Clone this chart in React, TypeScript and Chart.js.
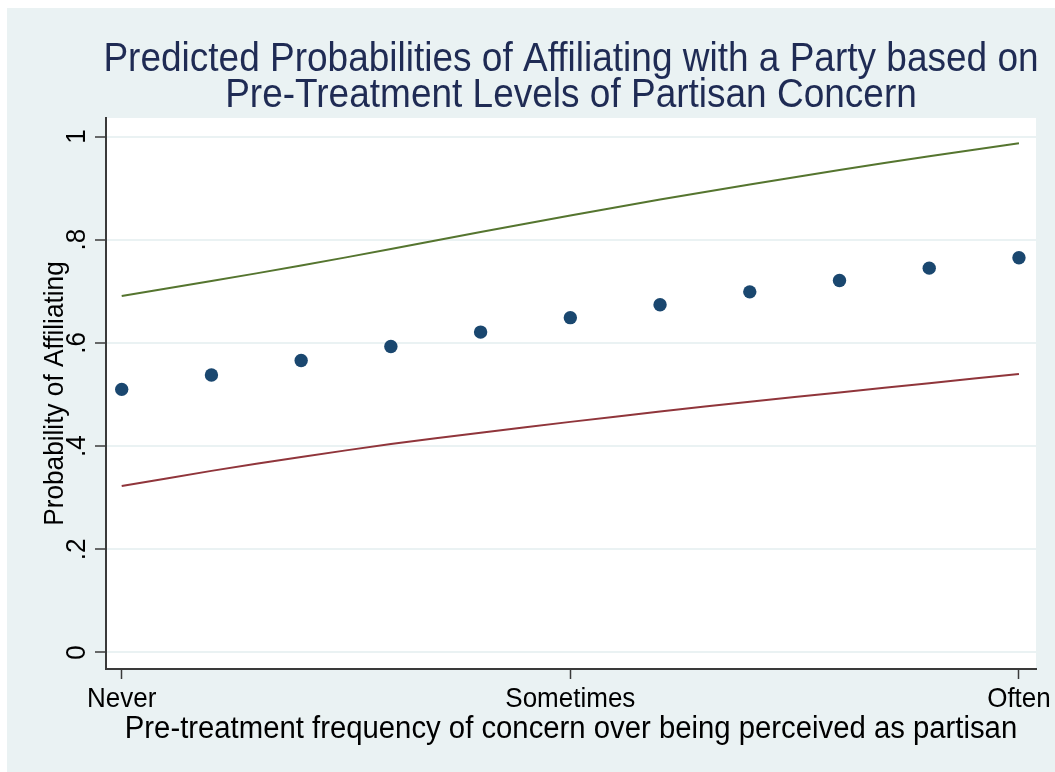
import React, { useEffect, useRef } from "react";
import { Chart, registerables } from "chart.js";

Chart.register(...registerables);

// Concern level (0 = Never ... 10 = Often) and predicted probabilities
const concernLevels = [0, 1, 2, 3, 4, 5, 6, 7, 8, 9, 10];
const predicted = [0.510, 0.538, 0.566, 0.593, 0.621, 0.649, 0.674, 0.699, 0.721, 0.745, 0.765];
const upperBound = [0.691, 0.720, 0.750, 0.782, 0.815, 0.847, 0.878, 0.907, 0.935, 0.962, 0.987];
const lowerBound = [0.3225, 0.352, 0.379, 0.404, 0.426, 0.447, 0.467, 0.486, 0.504, 0.522, 0.540];

const xTickValues = [0, 5, 10];
const xTickLabels = ["Never", "Sometimes", "Often"];
const yTickValues = [0, 0.2, 0.4, 0.6, 0.8, 1];
const yTickLabels = ["0", ".2", ".4", ".6", ".8", "1"];

const titleLines = [
  "Predicted Probabilities of Affiliating with a Party based on",
  "Pre-Treatment Levels of Partisan Concern",
];
const xTitle = "Pre-treatment frequency of concern over being perceived as partisan";
const yTitle = "Probability of Affiliating";

const FONT = '"Liberation Sans", Arial, Helvetica, sans-serif';
const BG = "#eaf2f3";
const AXIS = "#3a3a3a";
const STRETCH = 1.08; // glyphs drawn a little taller than wide

const W = 1048;
const H = 764;

const pairs = (ys: number[]) => concernLevels.map((x, i) => ({ x, y: ys[i] }));

// draws text anchored at (x, y) baseline-centre, optionally rotated
function drawText(ctx: CanvasRenderingContext2D, text: string, x: number, y: number, angle = 0) {
  ctx.save();
  ctx.translate(x, y);
  if (angle) ctx.rotate(angle);
  ctx.scale(1, STRETCH);
  ctx.fillText(text, 0, 0);
  ctx.restore();
}

const framePlugin = {
  id: "frame",
  beforeDraw(chart: any) {
    const { ctx, chartArea } = chart;
    ctx.save();
    ctx.fillStyle = BG;
    ctx.fillRect(0, 0, chart.width, chart.height);
    ctx.fillStyle = "#ffffff";
    ctx.fillRect(chartArea.left, chartArea.top, chartArea.right - chartArea.left, chartArea.bottom - chartArea.top);
    ctx.restore();
  },
  afterDraw(chart: any) {
    const { ctx, chartArea, scales } = chart;
    const cx = (chartArea.left + chartArea.right) / 2;
    const cy = (chartArea.top + chartArea.bottom) / 2;
    ctx.save();
    ctx.textAlign = "center";
    ctx.textBaseline = "alphabetic";

    // title
    ctx.fillStyle = "#1f2b54";
    ctx.font = `37px ${FONT}`;
    drawText(ctx, titleLines[0], cx, 63);
    drawText(ctx, titleLines[1], cx, 99);

    // x tick labels and title
    ctx.fillStyle = "#000000";
    ctx.font = `26px ${FONT}`;
    xTickValues.forEach((v, i) => {
      drawText(ctx, xTickLabels[i], scales.x.getPixelForValue(v), 699);
    });
    ctx.font = `29.3px ${FONT}`;
    drawText(ctx, xTitle, cx, 730);

    // y tick labels, rotated
    ctx.font = `26px ${FONT}`;
    yTickValues.forEach((v, i) => {
      drawText(ctx, yTickLabels[i], 78, scales.y.getPixelForValue(v), -Math.PI / 2);
    });

    // y title, rotated
    ctx.font = `26.2px ${FONT}`;
    drawText(ctx, yTitle, 56, cy, -Math.PI / 2);
    ctx.restore();
  },
};

export default function App() {
  const canvasRef = useRef<HTMLCanvasElement | null>(null);

  useEffect(() => {
    const canvas = canvasRef.current;
    if (!canvas) return;
    const chart = new Chart(canvas, {
      type: "scatter",
      data: {
        datasets: [
          {
            label: "Predicted",
            data: pairs(predicted),
            showLine: false,
            pointRadius: 6.7,
            pointBackgroundColor: "#1a476f",
            pointBorderWidth: 0,
          },
          {
            label: "Upper",
            data: pairs(upperBound),
            showLine: true,
            pointRadius: 0,
            borderColor: "#55752f",
            borderWidth: 2,
            tension: 0.3,
          },
          {
            label: "Lower",
            data: pairs(lowerBound),
            showLine: true,
            pointRadius: 0,
            borderColor: "#90353b",
            borderWidth: 2,
            tension: 0.3,
          },
        ],
      },
      options: {
        animation: false,
        responsive: false,
        devicePixelRatio: 1,
        events: [],
        layout: { padding: { left: 0, top: 110, right: 19, bottom: 0 } },
        plugins: {
          legend: { display: false },
          tooltip: { enabled: false },
          title: { display: false },
        },
        scales: {
          x: {
            type: "linear",
            min: -0.175,
            max: 10.19,
            afterBuildTicks: (s: any) => {
              s.ticks = xTickValues.map((value) => ({ value }));
            },
            afterFit: (s: any) => {
              s.height = 103;
            },
            ticks: { display: false },
            grid: {
              drawOnChartArea: false,
              drawTicks: true,
              tickLength: 10,
              tickColor: AXIS,
              tickWidth: 1.5,
            },
            border: { display: true, color: AXIS, width: 2 },
          },
          y: {
            type: "linear",
            min: -0.032,
            max: 1.036,
            afterBuildTicks: (s: any) => {
              s.ticks = yTickValues.map((value) => ({ value }));
            },
            afterFit: (s: any) => {
              s.width = 99;
            },
            ticks: { display: false },
            grid: {
              color: BG,
              lineWidth: 2,
              drawTicks: true,
              tickLength: 11,
              tickColor: AXIS,
              tickWidth: 1.5,
            },
            border: { display: true, color: AXIS, width: 2 },
          },
        },
      },
      plugins: [framePlugin],
    } as any);
    return () => chart.destroy();
  }, []);

  return (
    <div style={{ position: "fixed", left: 7, top: 8, width: W, height: H }}>
      <canvas ref={canvasRef} width={W} height={H} style={{ display: "block", width: W, height: H }} />
    </div>
  );
}
